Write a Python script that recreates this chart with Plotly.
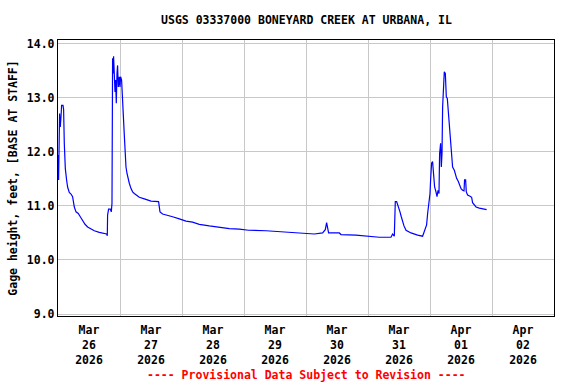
import plotly.graph_objects as go

# ---- data ----
times = [
    "2026-03-26 00:07", "2026-03-26 00:14", "2026-03-26 00:37", "2026-03-26 00:53",
    "2026-03-26 01:10", "2026-03-26 01:24", "2026-03-26 01:56", "2026-03-26 02:10",
    "2026-03-26 02:26", "2026-03-26 02:50", "2026-03-26 03:20", "2026-03-26 03:43",
    "2026-03-26 04:22", "2026-03-26 05:02", "2026-03-26 05:39", "2026-03-26 06:19",
    "2026-03-26 06:58", "2026-03-26 07:51", "2026-03-26 08:38", "2026-03-26 09:31",
    "2026-03-26 10:27", "2026-03-26 11:28", "2026-03-26 12:46", "2026-03-26 14:03",
    "2026-03-26 15:59", "2026-03-26 17:55", "2026-03-26 18:49", "2026-03-26 19:05",
    "2026-03-26 19:12", "2026-03-26 19:35", "2026-03-26 20:15", "2026-03-26 20:38",
    "2026-03-26 20:54", "2026-03-26 21:08", "2026-03-26 21:24", "2026-03-26 21:31",
    "2026-03-26 21:48", "2026-03-26 22:04", "2026-03-26 22:18", "2026-03-26 22:34",
    "2026-03-26 22:50", "2026-03-26 23:04", "2026-03-26 23:21", "2026-03-26 23:44",
    "2026-03-27 00:00", "2026-03-27 00:14", "2026-03-27 00:37", "2026-03-27 01:00",
    "2026-03-27 01:17", "2026-03-27 01:40", "2026-03-27 01:56", "2026-03-27 02:19",
    "2026-03-27 02:43", "2026-03-27 03:06", "2026-03-27 03:36", "2026-03-27 04:16",
    "2026-03-27 04:53", "2026-03-27 05:32", "2026-03-27 06:26", "2026-03-27 07:28",
    "2026-03-27 09:25", "2026-03-27 12:00", "2026-03-27 14:56", "2026-03-27 15:29",
    "2026-03-27 16:29", "2026-03-27 18:26", "2026-03-27 20:22", "2026-03-27 22:57",
    "2026-03-28 01:33", "2026-03-28 04:06", "2026-03-28 06:42", "2026-03-28 10:34",
    "2026-03-28 14:26", "2026-03-28 18:19", "2026-03-28 22:11", "2026-03-29 01:47",
    "2026-03-29 08:31", "2026-03-29 14:56", "2026-03-29 17:32", "2026-03-29 21:25",
    "2026-03-30 03:13", "2026-03-30 06:26", "2026-03-30 07:28", "2026-03-30 07:59",
    "2026-03-30 08:45", "2026-03-30 12:53", "2026-03-30 13:33", "2026-03-30 19:22",
    "2026-03-31 00:30", "2026-03-31 04:22", "2026-03-31 08:54", "2026-03-31 09:31",
    "2026-03-31 10:11", "2026-03-31 10:34", "2026-03-31 11:05", "2026-03-31 11:51",
    "2026-03-31 12:23", "2026-03-31 12:53", "2026-03-31 13:24", "2026-03-31 13:56",
    "2026-03-31 14:43", "2026-03-31 15:43", "2026-03-31 16:39", "2026-03-31 19:12",
    "2026-03-31 21:08", "2026-03-31 21:31", "2026-03-31 22:04", "2026-03-31 22:41",
    "2026-03-31 23:05", "2026-03-31 23:28", "2026-04-01 00:00", "2026-04-01 00:14",
    "2026-04-01 00:37", "2026-04-01 01:00", "2026-04-01 01:24", "2026-04-01 01:47",
    "2026-04-01 02:19", "2026-04-01 02:43", "2026-04-01 03:06", "2026-04-01 03:29",
    "2026-04-01 03:43", "2026-04-01 04:07", "2026-04-01 04:23", "2026-04-01 04:39",
    "2026-04-01 04:53", "2026-04-01 05:16", "2026-04-01 05:32", "2026-04-01 05:56",
    "2026-04-01 06:19", "2026-04-01 06:42", "2026-04-01 07:05", "2026-04-01 07:35",
    "2026-04-01 07:59", "2026-04-01 08:22", "2026-04-01 08:45", "2026-04-01 09:25",
    "2026-04-01 09:48", "2026-04-01 10:18", "2026-04-01 10:58", "2026-04-01 11:28",
    "2026-04-01 12:01", "2026-04-01 12:37", "2026-04-01 13:10", "2026-04-01 13:23",
    "2026-04-01 13:47", "2026-04-01 14:03", "2026-04-01 14:34", "2026-04-01 15:29",
    "2026-04-01 16:07", "2026-04-01 16:29", "2026-04-01 17:09", "2026-04-01 17:49",
    "2026-04-01 19:05", "2026-04-01 20:22", "2026-04-01 21:41", "2026-04-01 21:55",
]
gage_height = [
    11.94, 11.48, 12.71, 12.46, 12.65, 12.86, 12.86, 12.79,
    12.16, 11.69, 11.48, 11.35, 11.25, 11.22, 11.17, 10.98,
    10.89, 10.86, 10.80, 10.73, 10.66, 10.61, 10.57, 10.54,
    10.51, 10.49, 10.48, 10.45, 10.83, 10.94, 10.94, 10.89,
    11.05, 13.73, 13.45, 13.77, 13.23, 13.11, 13.33, 12.90,
    13.45, 13.60, 13.20, 13.39, 13.20, 13.39, 13.33, 13.05,
    12.68, 12.31, 11.91, 11.72, 11.60, 11.51, 11.42, 11.32,
    11.26, 11.23, 11.19, 11.16, 11.13, 11.09, 11.08, 10.89,
    10.85, 10.83, 10.80, 10.76, 10.72, 10.70, 10.66, 10.63,
    10.60, 10.58, 10.57, 10.55, 10.54, 10.52, 10.51, 10.49,
    10.48, 10.50, 10.56, 10.69, 10.50, 10.50, 10.47, 10.46,
    10.44, 10.42, 10.42, 10.48, 10.44, 11.08, 11.08, 10.98,
    10.89, 10.80, 10.71, 10.63, 10.55, 10.52, 10.50, 10.46,
    10.44, 10.49, 10.58, 10.65, 10.86, 11.01, 11.23, 11.48,
    11.79, 11.82, 11.54, 11.35, 11.26, 11.17, 11.29, 11.23,
    11.97, 12.16, 11.72, 11.97, 12.83, 13.26, 13.48, 13.45,
    13.02, 12.99, 12.77, 12.49, 12.22, 11.97, 11.72, 11.66,
    11.57, 11.51, 11.45, 11.38, 11.32, 11.29, 11.28, 11.48,
    11.48, 11.26, 11.20, 11.18, 11.16, 11.06, 11.01, 10.98,
    10.96, 10.95, 10.94, 10.93,
]

label_times = ["2026-03-26 12:00", "2026-03-27 12:00", "2026-03-28 12:00", "2026-03-29 12:00",
               "2026-03-30 12:00", "2026-03-31 12:00", "2026-04-01 12:00", "2026-04-02 12:00"]
label_text = ["Mar<br>26<br>2026", "Mar<br>27<br>2026", "Mar<br>28<br>2026", "Mar<br>29<br>2026",
              "Mar<br>30<br>2026", "Mar<br>31<br>2026", "Apr<br>01<br>2026", "Apr<br>02<br>2026"]
day_lines = ["2026-03-27", "2026-03-28", "2026-03-29", "2026-03-30",
             "2026-03-31", "2026-04-01", "2026-04-02"]
y_ticks = [9.0, 10.0, 11.0, 12.0, 13.0, 14.0]
y_tick_text = ["9.0", "10.0", "11.0", "12.0", "13.0", "14.0"]

FONT = "DejaVu Sans Mono"
GRID = "#c8c8c8"

fig = go.Figure()
fig.add_trace(go.Scatter(x=times, y=gage_height, mode="lines",
                         line=dict(color="#0000ff", width=1.2), showlegend=False))

fig.update_layout(
    width=576, height=384,
    margin=dict(l=58, r=22, t=40, b=68, autoexpand=False),
    paper_bgcolor="white", plot_bgcolor="white",
    font=dict(family=FONT, size=11.5, color="black", weight="bold"),
    title=dict(text="USGS 03337000 BONEYARD CREEK AT URBANA, IL",
               x=0.532, xanchor="center", xref="container",
               y=1 - 20 / 384, yanchor="middle", yref="container",
               font=dict(family=FONT, size=11.5, color="black", weight="bold")),
    xaxis=dict(
        type="date", range=["2026-03-26 00:00", "2026-04-03 00:00"],
        tickmode="array", tickvals=label_times, ticktext=label_text,
        showgrid=False, ticks="", zeroline=False,
        showline=True, linecolor="black", linewidth=1.3, mirror=True,
        minor=dict(tickmode="array", tickvals=day_lines, showgrid=True,
                   gridcolor=GRID, gridwidth=1, ticks=""),
        tickfont=dict(family=FONT, size=11.5, color="black", weight="bold"),
        ticklabelstandoff=3,
        automargin=False,
    ),
    yaxis=dict(
        range=[8.963, 14.07], tickmode="array", tickvals=y_ticks, ticktext=y_tick_text,
        showgrid=True, gridcolor=GRID, gridwidth=1, ticks="", zeroline=False,
        showline=True, linecolor="black", linewidth=1.3, mirror=True,
        title=dict(text="Gage height, feet, [BASE AT STAFF]", standoff=6,
                   font=dict(family=FONT, size=11.5, color="black", weight="bold")),
        tickfont=dict(family=FONT, size=11.5, color="black", weight="bold"),
        automargin=False,
    ),
)

fig.add_annotation(text="---- Provisional Data Subject to Revision ----",
                   xref="paper", yref="paper", x=0.5, y=-(375 - 316) / 276,
                   xanchor="center", yanchor="middle", showarrow=False,
                   font=dict(family=FONT, size=11.5, color="#ff0000", weight="bold"))

fig.write_html("out.html", config={"displayModeBar": False},
               post_script="document.body.style.margin='0';document.body.style.padding='0';")
